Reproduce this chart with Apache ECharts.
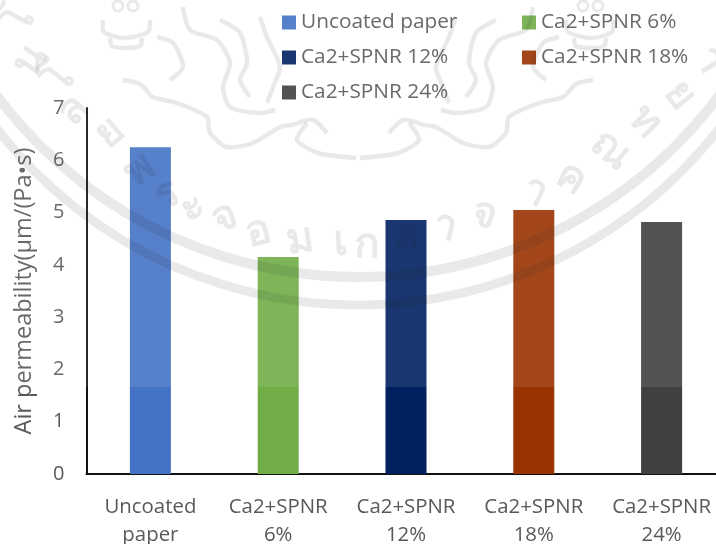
<!DOCTYPE html>
<html><head><meta charset="utf-8">
<style>html,body{margin:0;padding:0;background:#fff}#c{width:716px;height:544px}</style>
<script src="https://cdn.jsdelivr.net/npm/echarts@6/dist/echarts.min.js"></script>
</head><body><div id="c"></div>
<script>
const seriesNames = ['Uncoated paper','Ca2+SPNR 6%','Ca2+SPNR 12%','Ca2+SPNR 18%','Ca2+SPNR 24%'];
const categories = ['Uncoated\npaper','Ca2+SPNR\n6%','Ca2+SPNR\n12%','Ca2+SPNR\n18%','Ca2+SPNR\n24%'];
const values = [6.25,4.15,4.86,5.05,4.82];
const colors = ['#4472C4','#70AD47','#002060','#993300','#404040'];
const yTicks = [0,1,2,3,4,5,6,7];
const yTitle = 'Air permeability(µm/(Pa•s)';
const FONT = '"Open Sans"';
const legendPos = [[282,12],[522,12],[282,47],[522,47],[282,82]];
const chart = echarts.init(document.getElementById('c'));

const INK = 'rgba(0,0,0,0.095)';
const thai = [['โ',20,20],['น',30,60],['โ',60,80],['ล',73,110],['ย',110,133],['พ',140,170],['ร',167,195],['ะ',193,207],['จ',225,218],['อ',258,232],['ม',300,240],['เ',340,243],['ก',367,245],['ล',407,238],['า',445,227],['จ',485,215],['า',535,192],['ค',571,178],['ณ',611,150],['ท',645,122],['ย',680,95],['า',710,60]];
const dragonLines = [
 [[123,80],[140,84],[153,97],[177,103],[207,117],[210,133],[227,147],[253,143],[280,127],[293,125]],
 [[307,123],[297,140],[318,153],[356,158]],
 [[157,37],[173,43],[183,67],[170,80]],
 [[183,7],[190,30],[217,40],[230,63],[223,87],[230,107],[260,113],[275,110]],
 [[220,20],[240,33],[247,63],[240,80],[250,97]],
 [[260,17],[267,37],[280,67],[273,87],[267,103]],
 [[293,125],[313,120],[327,133]],
 [[103,20],[104,32],[125,38],[148,32],[150,20]],
 [[110,38],[112,46],[125,48],[140,46],[142,38]]
];
const crownDots = [[118,6],[133,6]];
const graphic = [
 {type:'arc',z:100,silent:true,shape:{cx:358,cy:-153,r:458,startAngle:0.3,endAngle:Math.PI-0.3,clockwise:true},style:{fill:null,stroke:INK,lineWidth:9}},
 {type:'arc',z:100,silent:true,shape:{cx:358,cy:-173,r:450,startAngle:0.3,endAngle:Math.PI-0.3,clockwise:true},style:{fill:null,stroke:INK,lineWidth:10}},
 {type:'rect',z:101,silent:true,shape:{x:0,y:0,width:716,height:387},style:{fill:'rgba(255,255,255,0.1)'}}
];
dragonLines.forEach(pts=>{
  [pts, pts.map(([x,y])=>[716-x,y])].forEach(p=>graphic.push({type:'polyline',z:100,silent:true,shape:{points:p,smooth:0.25},style:{fill:null,stroke:INK,lineWidth:4.5}}));
});
crownDots.forEach(([x,y])=>{
  [x,716-x].forEach(cx=>graphic.push({type:'circle',z:100,silent:true,shape:{cx,cy:y,r:5},style:{fill:null,stroke:INK,lineWidth:3}}));
});
thai.forEach(([t,x,y])=>{
  const rot = Math.atan2(358-x, y+160);
  graphic.push({type:'text',z:100,silent:true,x,y,rotation:rot,style:{text:t,font:'bold 42px "Noto Sans"',fill:INK,align:'center',verticalAlign:'middle'}});
});
chart.setOption({
  animation:false,
  backgroundColor:'#fff',
  grid:{left:86.5,top:108,width:639,height:366,containLabel:false,outerBoundsMode:'none'},
  legend: seriesNames.map((n,i)=>({data:[n],left:legendPos[i][0],top:legendPos[i][1],icon:'rect',itemWidth:14,itemHeight:14,itemGap:0,padding:0,textStyle:{fontFamily:FONT,fontSize:20.8,color:'#595959'}})),
  xAxis:{type:'category',data:categories,axisTick:{show:false},axisLine:{lineStyle:{color:'#111',width:2}},
    axisLabel:{fontFamily:FONT,fontSize:20.4,color:'#595959',lineHeight:28,margin:19,interval:0}},
  yAxis:{type:'value',min:yTicks[0],max:yTicks[yTicks.length-1],interval:1,splitLine:{show:false},
    axisTick:{show:false},axisLine:{show:true,lineStyle:{color:'#111',width:2}},
    axisLabel:{fontFamily:FONT,fontSize:20,color:'#595959',margin:22},
    name:yTitle,nameLocation:'middle',nameGap:50,nameTextStyle:{fontFamily:FONT,fontSize:23.5,color:'#595959'}},
  graphic,
  series: seriesNames.map((n,i)=>({name:n,type:'bar',stack:'a',barWidth:41,itemStyle:{color:colors[i]},
    data:categories.map((c,j)=>j===i?values[j]:null)}))
});
</script></body></html>
